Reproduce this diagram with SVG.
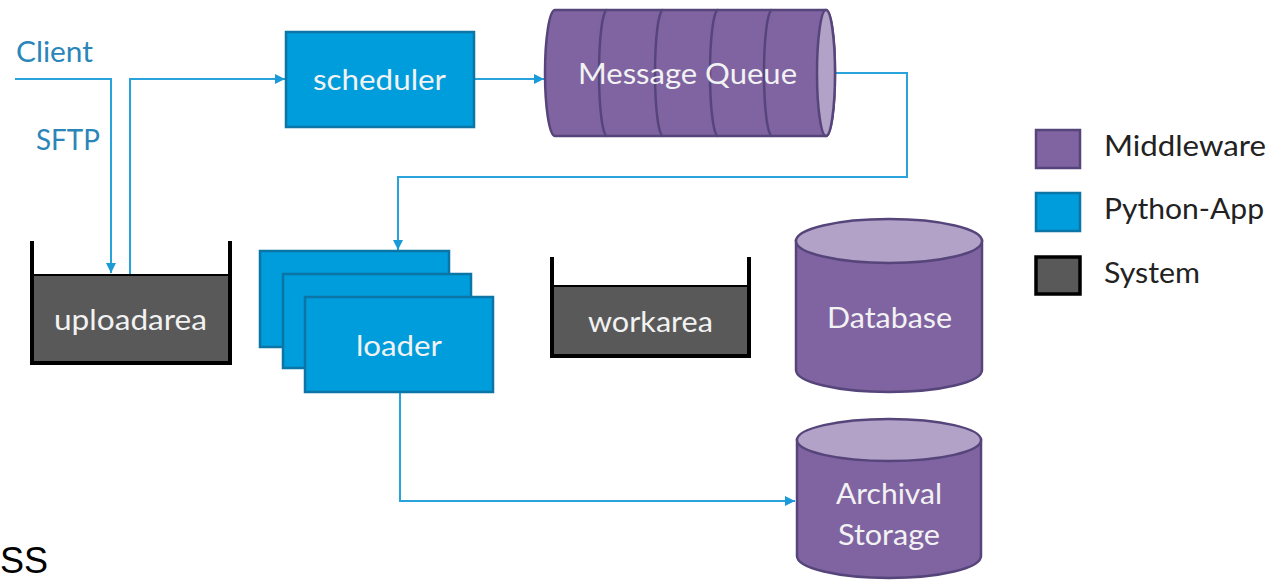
<svg xmlns="http://www.w3.org/2000/svg" width="1282" height="585" viewBox="0 0 1282 585">
<defs>
<style>
.t{font-family:Lato,"Open Sans","Liberation Sans",sans-serif;font-size:28.5px}
.w{fill:#f2f2f2}
.lbl{fill:#2a86b8}
.lg{fill:#222}
.app{fill:#009ddc;stroke:#0b76a6;stroke-width:2.5}
.mid{fill:#8064a2;stroke:#56457a;stroke-width:2.5}
.midl{fill:#b3a2c7;stroke:#56457a;stroke-width:2.5}
.sys{fill:#595959}
.wall{fill:none;stroke:#000;stroke-width:4;stroke-linejoin:miter}
.c{fill:none;stroke:#29a3dc;stroke-width:2}
</style>
<marker id="ah" viewBox="0 0 10 10" refX="10" refY="5" markerWidth="10" markerHeight="10" markerUnits="userSpaceOnUse" orient="auto">
<path d="M0,0 L10,5 L0,10 Z" fill="#1a9ad6"/>
</marker>
</defs>
<rect width="1282" height="585" fill="#fff"/>

<g id="connectors">
<path class="c" d="M15,79 H111 V273" marker-end="url(#ah)"/>
<path class="c" d="M130,274 V79 H285" marker-end="url(#ah)"/>
<path class="c" d="M474,79 H544" marker-end="url(#ah)"/>
<path class="c" d="M835,73 H907 V177 H398 V250" marker-end="url(#ah)"/>
<path class="c" d="M400,392 V501 H795" marker-end="url(#ah)"/>
</g>

<g id="client-label">
<text class="t lbl" x="16" y="62" textLength="77" lengthAdjust="spacingAndGlyphs">Client</text>
</g>
<g id="sftp-label">
<text class="t lbl" x="36" y="150" textLength="64" lengthAdjust="spacingAndGlyphs">SFTP</text>
</g>

<g id="uploadarea">
<rect class="sys" x="34" y="275" width="195" height="87"/>
<line x1="34" y1="275" x2="229" y2="275" stroke="#000" stroke-width="2"/>
<path class="wall" d="M32,241 V363 H230 V241"/>
<text class="t w" x="54" y="330" textLength="153" lengthAdjust="spacingAndGlyphs">uploadarea</text>
</g>

<g id="scheduler">
<rect class="app" x="286" y="32" width="188" height="95"/>
<text class="t w" x="313" y="90" textLength="133" lengthAdjust="spacingAndGlyphs">scheduler</text>
</g>

<g id="message-queue">
<path class="mid" d="M555,10 L826,10 A9,63 0 0 1 826,136 L555,136 A10,63 0 0 1 555,10 Z"/>
<path fill="none" stroke="#56457a" stroke-width="2.5" d="M607,10 A8,63 0 0 0 607,136 M663,10 A8,63 0 0 0 663,136 M718,10 A8,63 0 0 0 718,136 M772,10 A8,63 0 0 0 772,136"/>
<ellipse class="midl" cx="826" cy="73" rx="9" ry="63"/>
<text class="t w" x="578" y="84" textLength="219" lengthAdjust="spacingAndGlyphs">Message Queue</text>
</g>

<g id="loader">
<rect class="app" x="260" y="251" width="189" height="96"/>
<rect class="app" x="283" y="274" width="188" height="94"/>
<rect class="app" x="305" y="297" width="188" height="95"/>
<text class="t w" x="356" y="356" textLength="86" lengthAdjust="spacingAndGlyphs">loader</text>
</g>

<g id="workarea">
<rect class="sys" x="554" y="286" width="194" height="69"/>
<line x1="554" y1="286" x2="748" y2="286" stroke="#000" stroke-width="2"/>
<path class="wall" d="M552,257 V356 H749 V257"/>
<text class="t w" x="588" y="332" textLength="125" lengthAdjust="spacingAndGlyphs">workarea</text>
</g>

<g id="database">
<path class="mid" d="M796,241 V370 A93,22 0 0 0 982,370 V241 Z"/>
<ellipse class="midl" cx="889" cy="241" rx="93" ry="22"/>
<text class="t w" x="827" y="328" textLength="125" lengthAdjust="spacingAndGlyphs">Database</text>
</g>

<g id="archival-storage">
<path class="mid" d="M797,440 V556 A92,22 0 0 0 981,556 V440 Z"/>
<ellipse class="midl" cx="889" cy="440" rx="92" ry="21"/>
<text class="t w" x="836" y="504" textLength="106" lengthAdjust="spacingAndGlyphs">Archival</text>
<text class="t w" x="838" y="545" textLength="102" lengthAdjust="spacingAndGlyphs">Storage</text>
</g>

<g id="legend">
<rect x="1036" y="130" width="44" height="38" fill="#8064a2" stroke="#56457a" stroke-width="2.5"/>
<text class="t lg" x="1104" y="156" textLength="162" lengthAdjust="spacingAndGlyphs">Middleware</text>
<rect x="1036" y="193" width="44" height="38" fill="#009ddc" stroke="#0b76a6" stroke-width="2.5"/>
<text class="t lg" x="1104" y="219" textLength="160" lengthAdjust="spacingAndGlyphs">Python-App</text>
<rect x="1036" y="257" width="44" height="37" fill="#595959" stroke="#000" stroke-width="3.5"/>
<text class="t lg" x="1104" y="283" textLength="96" lengthAdjust="spacingAndGlyphs">System</text>
</g>

<g id="ss-label">
<text x="0" y="573" font-family="Liberation Sans,Arial,sans-serif" font-size="36" fill="#000">SS</text>
</g>
</svg>
